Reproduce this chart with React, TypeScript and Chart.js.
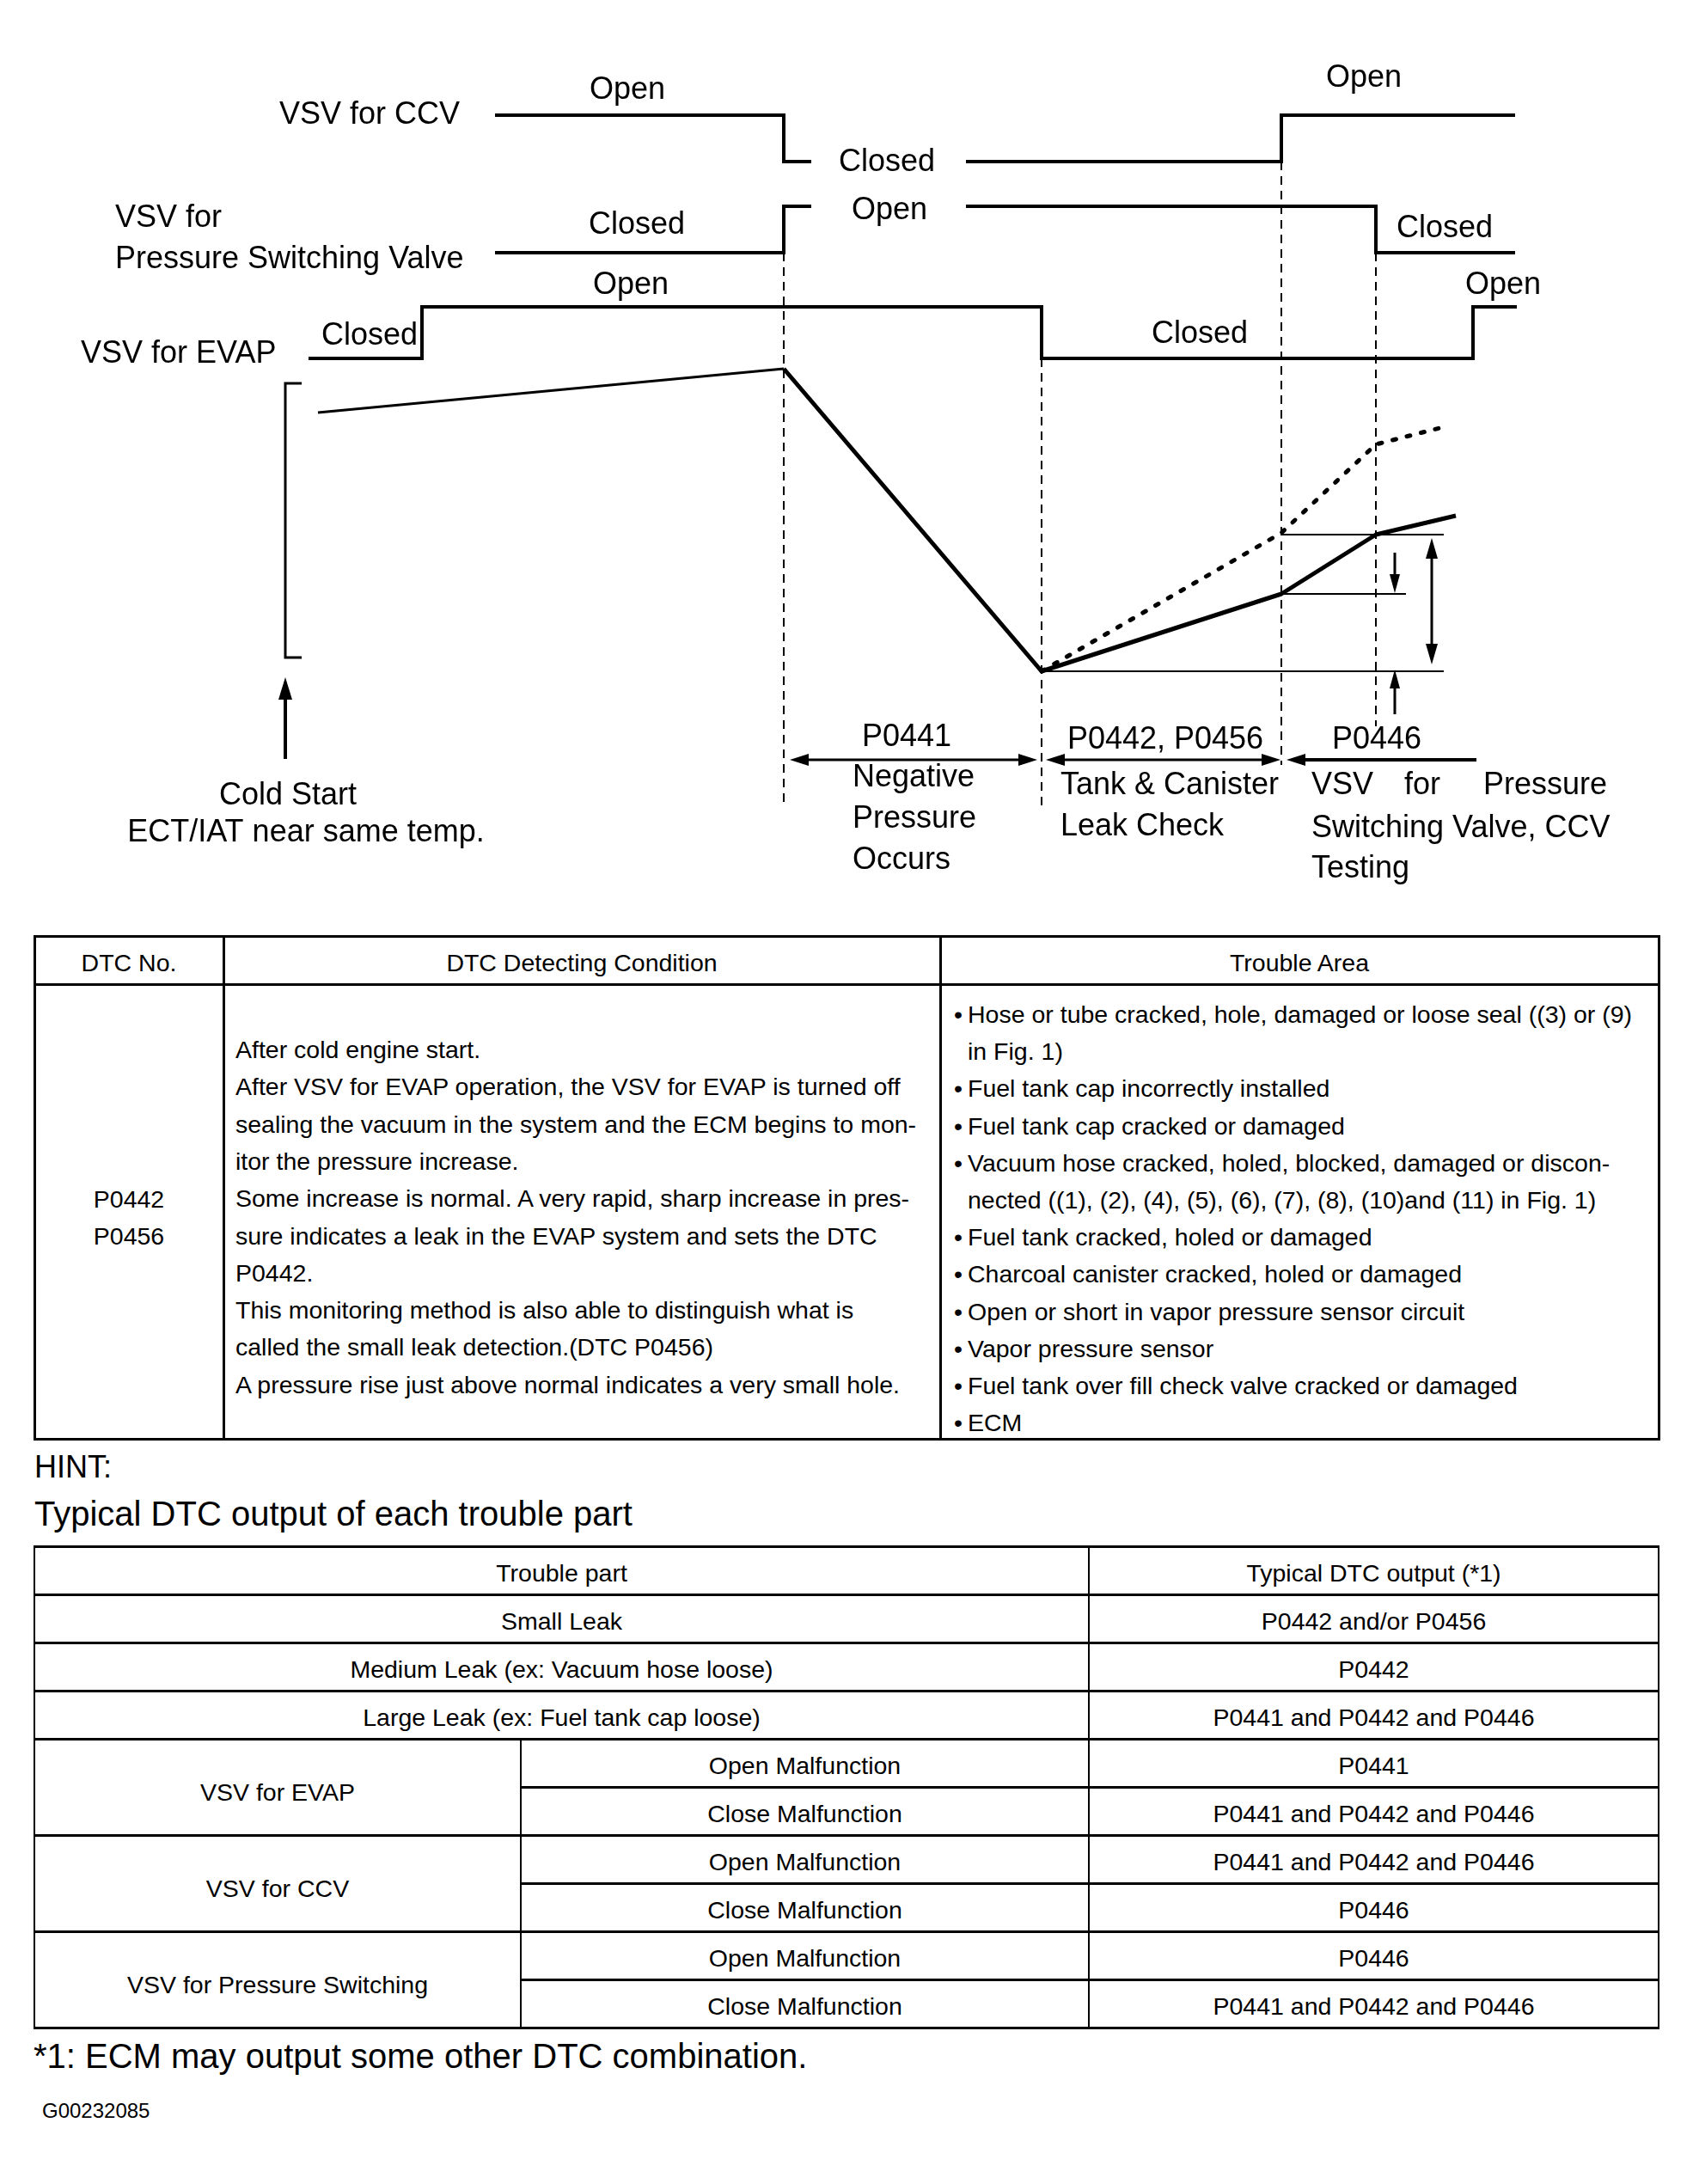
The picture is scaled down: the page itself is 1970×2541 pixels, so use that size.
import React, { useEffect, useRef } from "react";
import { Chart, registerables } from "chart.js";

Chart.register(...registerables);

const FONT = "'Liberation Sans', Arial, Helvetica, sans-serif";

// ---------------- Diagram data ----------------
// time axis (diagram units) of the phase boundaries
const phaseTimes = [912, 1212, 1491, 1601];
// valve state timelines: [time, state]  1 = Open, 0 = Closed
const ccvSegments = [
  [[576, 1], [912, 0], [944, 0]],
  [[1124, 0], [1491, 1], [1763, 1]],
];
const psvSegments = [
  [[576, 0], [912, 1], [944, 1]],
  [[1124, 1], [1601, 0], [1763, 0]],
];
const evapSegments = [[[359, 0], [491, 1], [1212, 0], [1714, 1], [1765, 1]]];
// relative pressure (0 = deepest vacuum)
const pressureTimes = [370, 912, 1212, 1491, 1601, 1694];
const pressureNormal = [301, 352, 0, 90, 159, 181];
const leakTimes = [1212, 1491, 1601, 1675];
const pressureLeak = [0, 161, 264, 283];
// phase labels
const phaseCodes = ["P0441", "P0442, P0456", "P0446"];
const valveNames = ["VSV for CCV", "VSV for", "Pressure Switching Valve", "VSV for EVAP"];

// ---------------- Table data ----------------
const t1Headers = ["DTC No.", "DTC Detecting Condition", "Trouble Area"];
const t1Codes = ["P0442", "P0456"];
const t1Condition = [
  "After cold engine start.",
  "After VSV for EVAP operation, the VSV for EVAP is turned off",
  "sealing the vacuum in the system and the ECM begins to mon-",
  "itor the pressure increase.",
  "Some increase is normal. A very rapid, sharp increase in pres-",
  "sure indicates a leak in the EVAP system and sets the DTC",
  "P0442.",
  "This monitoring method is also able to distinguish what is",
  "called the small leak detection.(DTC P0456)",
  "A pressure rise just above normal indicates a very small hole.",
];
const t1Trouble: [boolean, string][] = [
  [true, "Hose or tube cracked, hole, damaged or loose seal ((3) or (9)"],
  [false, "in Fig. 1)"],
  [true, "Fuel tank cap incorrectly installed"],
  [true, "Fuel tank cap cracked or damaged"],
  [true, "Vacuum hose cracked, holed, blocked, damaged or discon-"],
  [false, "nected ((1), (2), (4), (5), (6), (7), (8), (10)and (11) in Fig. 1)"],
  [true, "Fuel tank cracked, holed or damaged"],
  [true, "Charcoal canister cracked, holed or damaged"],
  [true, "Open or short in vapor pressure sensor circuit"],
  [true, "Vapor pressure sensor"],
  [true, "Fuel tank over fill check valve cracked or damaged"],
  [true, "ECM"],
];
const t2Headers = ["Trouble part", "Typical DTC output (*1)"];
const t2Leaks = [
  ["Small Leak", "P0442 and/or P0456"],
  ["Medium Leak (ex: Vacuum hose loose)", "P0442"],
  ["Large Leak (ex: Fuel tank cap loose)", "P0441 and P0442 and P0446"],
];
const t2Groups = ["VSV for EVAP", "VSV for CCV", "VSV for Pressure Switching"];
const t2Modes = ["Open Malfunction", "Close Malfunction"];
const t2Outputs = [
  ["P0441", "P0441 and P0442 and P0446"],
  ["P0441 and P0442 and P0446", "P0446"],
  ["P0446", "P0441 and P0442 and P0446"],
];

// ---------------- Layout (positions only) ----------------
const W = 1970;
const DH = 1060;
const trackLevels = {
  ccv: { open: 134, closed: 188 },
  psv: { open: 240, closed: 294 },
  evap: { open: 357, closed: 417 },
};
const guideSpans = [
  [294, 939],
  [417, 939],
  [188, 890],
  [294, 845],
];

function stepDataset(segments: number[][][], lv: { open: number; closed: number }) {
  const data: any[] = [];
  segments.forEach((seg, i) => {
    if (i > 0) {
      const prev = segments[i - 1];
      data.push({ x: (prev[prev.length - 1][0] + seg[0][0]) / 2, y: null });
    }
    seg.forEach(([t, s]) => data.push({ x: t, y: s ? lv.open : lv.closed }));
  });
  return {
    type: "line",
    data,
    stepped: "before",
    borderColor: "#000",
    borderWidth: 4,
    borderJoinStyle: "miter",
    pointRadius: 0,
    spanGaps: false,
    yAxisID: "y",
    parsing: false,
  };
}

function arrowHead(ctx: CanvasRenderingContext2D, tx: number, ty: number, dx: number, dy: number, len = 22, hw = 7) {
  const n = Math.hypot(dx, dy);
  const ux = dx / n, uy = dy / n;
  const bx = tx - ux * len, by = ty - uy * len;
  ctx.beginPath();
  ctx.moveTo(tx, ty);
  ctx.lineTo(bx - uy * hw, by + ux * hw);
  ctx.lineTo(bx + uy * hw, by - ux * hw);
  ctx.closePath();
  ctx.fill();
}

function arrow(ctx: CanvasRenderingContext2D, x1: number, y1: number, x2: number, y2: number, both: boolean, lw: number, len = 22, hw = 7) {
  const n = Math.hypot(x2 - x1, y2 - y1);
  const ux = (x2 - x1) / n, uy = (y2 - y1) / n;
  ctx.lineWidth = lw;
  ctx.beginPath();
  ctx.moveTo(both ? x1 + ux * (len - 2) : x1, both ? y1 + uy * (len - 2) : y1);
  ctx.lineTo(x2 - ux * (len - 2), y2 - uy * (len - 2));
  ctx.stroke();
  arrowHead(ctx, x2, y2, ux, uy, len, hw);
  if (both) arrowHead(ctx, x1, y1, -ux, -uy, len, hw);
}

const decorPlugin = {
  id: "decor",
  beforeDatasetsDraw(chart: any) {
    const ctx: CanvasRenderingContext2D = chart.ctx;
    const xs = chart.scales.x, ys = chart.scales.y;
    ctx.save();
    ctx.strokeStyle = "#000";
    ctx.lineWidth = 2;
    ctx.setLineDash([10, 7]);
    phaseTimes.forEach((t, i) => {
      const x = xs.getPixelForValue(t);
      ctx.beginPath();
      ctx.moveTo(x, ys.getPixelForValue(guideSpans[i][0]));
      ctx.lineTo(x, ys.getPixelForValue(guideSpans[i][1]));
      ctx.stroke();
    });
    ctx.restore();
  },
  afterDatasetsDraw(chart: any) {
    const ctx: CanvasRenderingContext2D = chart.ctx;
    const xs = chart.scales.x, ys = chart.scales.y, yp = chart.scales.yP;
    const X = (v: number) => xs.getPixelForValue(v);
    const Y = (v: number) => ys.getPixelForValue(v);
    const P = (v: number) => yp.getPixelForValue(v);
    ctx.save();
    ctx.strokeStyle = "#000";
    ctx.fillStyle = "#000";
    ctx.setLineDash([]);

    // bracket for pressure axis
    ctx.lineWidth = 3;
    ctx.beginPath();
    ctx.moveTo(X(351), Y(446));
    ctx.lineTo(X(332), Y(446));
    ctx.lineTo(X(332), Y(765));
    ctx.lineTo(X(351), Y(765));
    ctx.stroke();

    // reference levels
    ctx.lineWidth = 2;
    const refs = [
      [pressureNormal[2], phaseTimes[1], 1680],
      [pressureNormal[3], phaseTimes[2], 1636],
      [pressureNormal[4], phaseTimes[2], 1680],
    ];
    refs.forEach(([p, a, b]) => {
      ctx.beginPath();
      ctx.moveTo(X(a), P(p));
      ctx.lineTo(X(b), P(p));
      ctx.stroke();
    });

    // measurement arrows
    arrow(ctx, X(1666), P(pressureNormal[4]) + 4, X(1666), P(pressureNormal[2]) - 8, true, 3, 24, 7);
    arrow(ctx, X(1623), Y(643), X(1623), P(pressureNormal[3]) - 1, false, 3, 22, 6);
    arrow(ctx, X(1623), Y(831), X(1623), P(pressureNormal[2]) - 2, false, 3, 22, 6);
    // cold start arrow
    arrow(ctx, X(332), Y(883), X(332), Y(788), false, 4, 26, 8);

    // phase arrows
    const ay = Y(884);
    arrow(ctx, X(phaseTimes[0] + 7), ay, X(phaseTimes[1] - 5), ay, true, 3, 22, 7);
    arrow(ctx, X(phaseTimes[1] + 5), ay, X(phaseTimes[2] - 1), ay, true, 3, 22, 7);
    arrow(ctx, X(1718), ay, X(phaseTimes[2] + 6), ay, false, 4, 22, 7);

    // text
    ctx.font = `36px ${FONT}`;
    ctx.textBaseline = "middle";
    const txt = (s: string, x: number, y: number, align: CanvasTextAlign) => {
      ctx.textAlign = align;
      ctx.fillText(s, X(x), Y(y));
    };
    txt(valveNames[0], 325, 134, "left");
    txt(valveNames[1], 134, 254, "left");
    txt(valveNames[2], 134, 302, "left");
    txt(valveNames[3], 94, 412, "left");

    txt("Open", 730, 105, "center");
    txt("Closed", 1032, 189, "center");
    txt("Open", 1587, 91, "center");
    txt("Closed", 741, 262, "center");
    txt("Open", 1035, 245, "center");
    txt("Closed", 1681, 266, "center");
    txt("Open", 734, 332, "center");
    txt("Closed", 430, 391, "center");
    txt("Closed", 1396, 389, "center");
    txt("Open", 1749, 332, "center");

    txt(phaseCodes[0], 1055, 858, "center");
    txt("Negative", 992, 905, "left");
    txt("Pressure", 992, 953, "left");
    txt("Occurs", 992, 1001, "left");
    txt(phaseCodes[1], 1356, 861, "center");
    txt("Tank & Canister", 1234, 914, "left");
    txt("Leak Check", 1234, 962, "left");
    txt(phaseCodes[2], 1602, 861, "center");
    txt("VSV", 1526, 914, "left");
    txt("for", 1655, 914, "center");
    txt("Pressure", 1870, 914, "right");
    txt("Switching Valve, CCV", 1526, 964, "left");
    txt("Testing", 1526, 1011, "left");

    txt("Cold Start", 335, 926, "center");
    txt("ECT/IAT near same temp.", 356, 969, "center");
    ctx.restore();
  },
};

function Diagram() {
  const ref = useRef<HTMLCanvasElement | null>(null);
  useEffect(() => {
    if (!ref.current) return;
    const datasets: any[] = [
      stepDataset(ccvSegments, trackLevels.ccv),
      stepDataset(psvSegments, trackLevels.psv),
      stepDataset(evapSegments, trackLevels.evap),
      {
        type: "line",
        data: pressureTimes.map((t, i) => ({ x: t, y: pressureNormal[i] })),
        parsing: false,
        yAxisID: "yP",
        borderColor: "#000",
        borderWidth: 5,
        borderJoinStyle: "round",
        pointRadius: 0,
        tension: 0,
        segment: { borderWidth: (c: any) => (c.p0DataIndex === 0 ? 3 : 5) },
      },
      {
        type: "line",
        data: leakTimes.map((t, i) => ({ x: t, y: pressureLeak[i] })),
        parsing: false,
        yAxisID: "yP",
        borderColor: "#000",
        borderWidth: 5,
        borderDash: [4, 13],
        borderCapStyle: "round",
        pointRadius: 0,
        tension: 0,
      },
    ];
    const chart = new Chart(ref.current, {
      type: "line",
      data: { datasets },
      options: {
        responsive: false,
        animation: false,
        events: [],
        layout: { padding: 0 },
        plugins: { legend: { display: false }, tooltip: { enabled: false } },
        scales: {
          x: { type: "linear", min: 0, max: W, display: false },
          y: { type: "linear", min: 0, max: DH, reverse: true, display: false },
          yP: { type: "linear", min: -279, max: 781, display: false },
        },
      } as any,
      plugins: [decorPlugin as any],
    } as any);
    return () => chart.destroy();
  }, []);
  return (
    <canvas
      ref={ref}
      width={W}
      height={DH}
      style={{ position: "absolute", left: 0, top: 0, width: W, height: DH, display: "block" }}
    />
  );
}

const HL = ({ x1, x2, y, w = 3 }: any) => (
  <div style={{ position: "absolute", left: x1, top: y - w / 2, width: x2 - x1, height: w, background: "#000" }} />
);
const VL = ({ x, y1, y2, w = 3 }: any) => (
  <div style={{ position: "absolute", left: x - w / 2, top: y1, width: w, height: y2 - y1, background: "#000" }} />
);
const T = ({ x, y, align = "center", size = 28.5, children }: any) => (
  <div
    style={{
      position: "absolute",
      left: x,
      top: y,
      transform: align === "center" ? "translate(-50%,-50%)" : "translateY(-50%)",
      whiteSpace: "nowrap",
      fontSize: size,
      lineHeight: 1,
      color: "#000",
    }}
  >
    {children}
  </div>
);

function Table1() {
  const L = 40, R = 1930, TOP = 1089, HB = 1145, BOT = 1674, C1 = 260, C2 = 1094;
  return (
    <>
      <HL x1={L - 1.5} x2={R + 1.5} y={TOP} />
      <HL x1={L} x2={R} y={HB} />
      <HL x1={L - 1.5} x2={R + 1.5} y={BOT} />
      <VL x={L} y1={TOP} y2={BOT} />
      <VL x={C1} y1={TOP} y2={BOT} />
      <VL x={C2} y1={TOP} y2={BOT} />
      <VL x={R} y1={TOP} y2={BOT} />
      <T x={(L + C1) / 2} y={1120}>{t1Headers[0]}</T>
      <T x={(C1 + C2) / 2} y={1120}>{t1Headers[1]}</T>
      <T x={(C2 + R) / 2} y={1120}>{t1Headers[2]}</T>
      {t1Codes.map((c, i) => (
        <T key={c} x={150} y={1395 + i * 43}>{c}</T>
      ))}
      {t1Condition.map((s, i) => (
        <T key={i} x={274} y={1221 + i * 43.3} align="left">{s}</T>
      ))}
      {t1Trouble.map(([b, s], i) => (
        <React.Fragment key={i}>
          {b && <T x={1110} y={1180 + i * 43.2} align="left">•</T>}
          <T x={1126} y={1180 + i * 43.2} align="left">{s}</T>
        </React.Fragment>
      ))}
    </>
  );
}

function Table2() {
  const L = 40, R = 1930, C1 = 606, C2 = 1267, TOP = 1799, RH = 56;
  const rows = Array.from({ length: 11 }, (_, i) => TOP + i * RH);
  const full = [0, 1, 2, 3, 4, 6, 8, 10];
  const part = [5, 7, 9];
  return (
    <>
      {full.map((i) => (
        <HL key={"f" + i} x1={L - 1} x2={R + 1} y={rows[i]} />
      ))}
      {part.map((i) => (
        <HL key={"p" + i} x1={C1} x2={R} y={rows[i]} />
      ))}
      <VL x={L} y1={TOP} y2={rows[10]} w={2} />
      <VL x={R} y1={TOP} y2={rows[10]} w={2} />
      <VL x={C2} y1={TOP} y2={rows[10]} w={2} />
      <VL x={C1} y1={rows[4]} y2={rows[10]} w={2} />
      <T x={(L + C2) / 2} y={rows[0] + RH / 2 + 3}>{t2Headers[0]}</T>
      <T x={(C2 + R) / 2} y={rows[0] + RH / 2 + 3}>{t2Headers[1]}</T>
      {t2Leaks.map(([a, b], i) => (
        <React.Fragment key={a}>
          <T x={(L + C2) / 2} y={rows[i + 1] + RH / 2 + 3}>{a}</T>
          <T x={(C2 + R) / 2} y={rows[i + 1] + RH / 2 + 3}>{b}</T>
        </React.Fragment>
      ))}
      {t2Groups.map((g, gi) => (
        <React.Fragment key={g}>
          <T x={(L + C1) / 2} y={rows[4 + gi * 2 + 1] + 6}>{g}</T>
          {t2Modes.map((m, mi) => (
            <React.Fragment key={m}>
              <T x={(C1 + C2) / 2} y={rows[4 + gi * 2 + mi] + RH / 2 + 3}>{m}</T>
              <T x={(C2 + R) / 2} y={rows[4 + gi * 2 + mi] + RH / 2 + 3}>{t2Outputs[gi][mi]}</T>
            </React.Fragment>
          ))}
        </React.Fragment>
      ))}
    </>
  );
}

export default function App() {
  return (
    <div
      style={{
        position: "absolute",
        left: 0,
        top: 0,
        width: W,
        height: 2541,
        background: "#fff",
        fontFamily: FONT,
        color: "#000",
        overflow: "hidden",
      }}
    >
      <Diagram />
      <Table1 />
      <T x={40} y={1707} align="left" size={36}>HINT:</T>
      <T x={40} y={1761} align="left" size={40}>Typical DTC output of each trouble part</T>
      <Table2 />
      <T x={39} y={2392} align="left" size={40}>*1: ECM may output some other DTC combination.</T>
      <T x={49} y={2456} align="left" size={24}>G00232085</T>
    </div>
  );
}
